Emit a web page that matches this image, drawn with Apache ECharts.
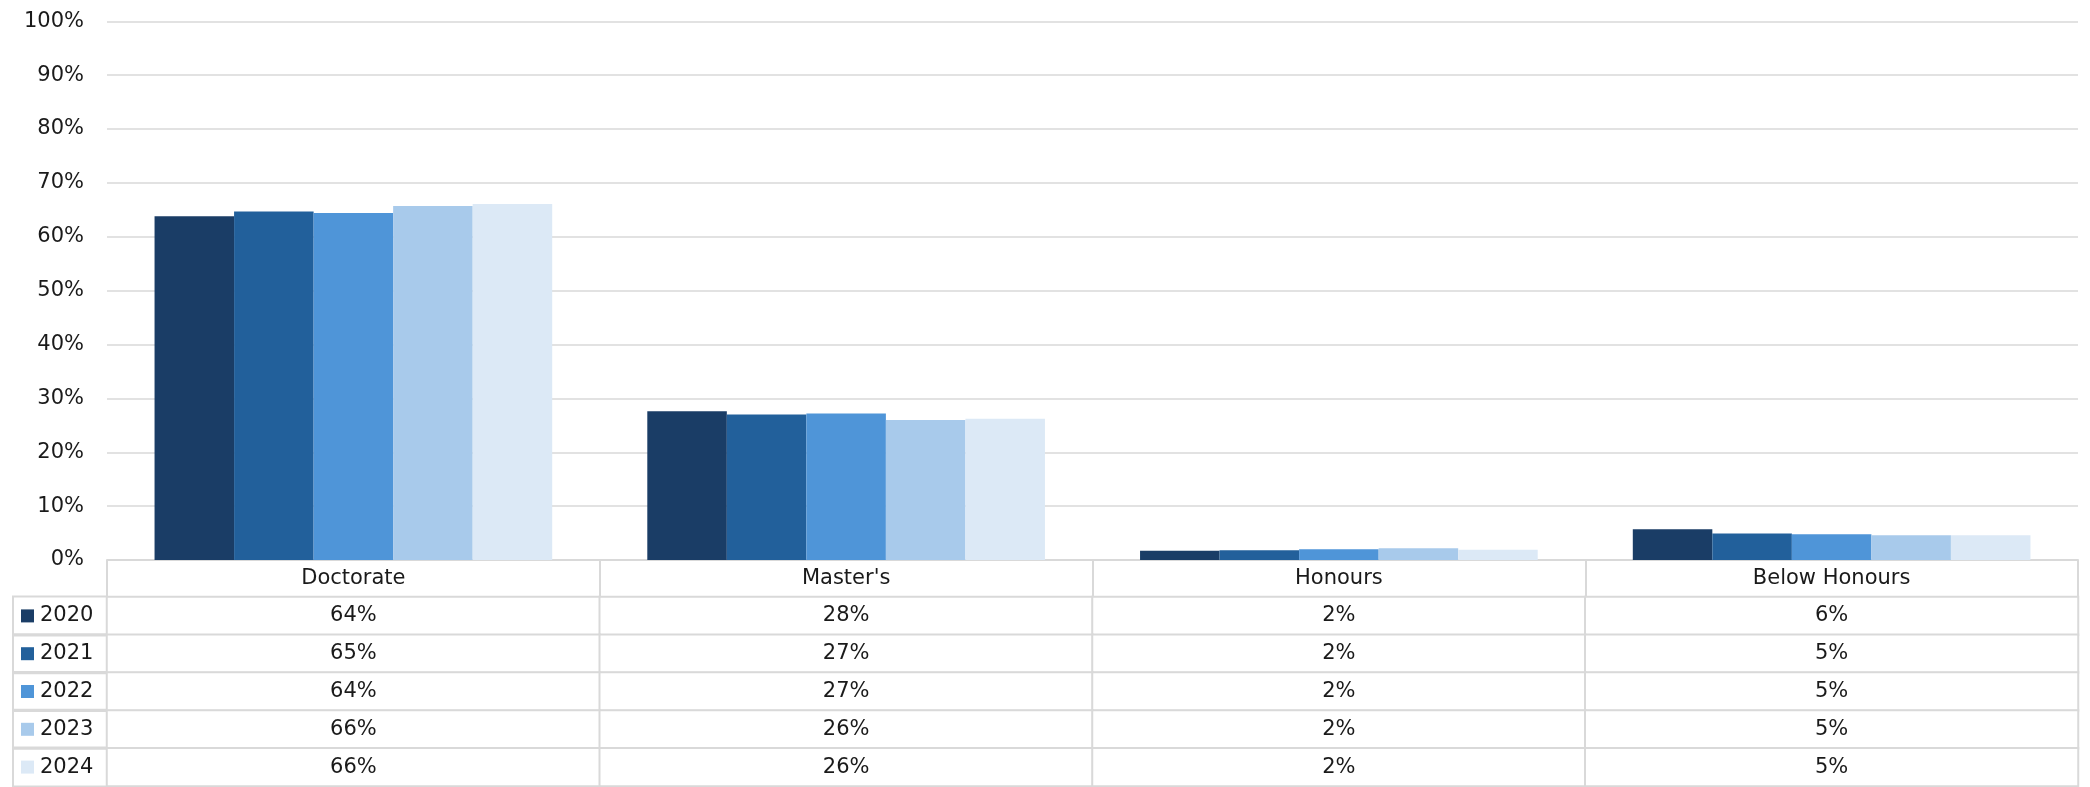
<!DOCTYPE html>
<html>
<head>
<meta charset="utf-8">
<script src="https://cdn.jsdelivr.net/npm/echarts@6/dist/echarts.min.js"></script>
<style>
  html, body { margin: 0; padding: 0; background: #fff; }
  #chart { width: 2090px; height: 787px; }
</style>
</head>
<body>
<div id="chart"></div>
<script>
// ---- data ----
const categories = ["Doctorate", "Master's", "Honours", "Below Honours"];
const years = ["2020", "2021", "2022", "2023", "2024"];
const values2020 = [63.8, 27.6, 1.7, 5.7];
const values2021 = [64.7, 27.0, 1.8, 4.9];
const values2022 = [64.4, 27.2, 2.0, 4.8];
const values2023 = [65.7, 26.0, 2.2, 4.6];
const values2024 = [66.1, 26.2, 1.9, 4.6];
const yTicks = [0, 10, 20, 30, 40, 50, 60, 70, 80, 90, 100];

const seriesValues = [values2020, values2021, values2022, values2023, values2024];
const colors = ["#1a3d66", "#22609b", "#4f95d8", "#a8caeb", "#dce9f6"];
const FONT = "DejaVu Sans";
const FS = 21;
const TXT = "#1a1a1a";
const LINE = "#d9d9d9";

const chart = echarts.init(document.getElementById('chart'), null, { renderer: 'canvas' });

const barSeries = years.map((y, i) => ({
  name: y,
  type: 'bar',
  xAxisIndex: 0, yAxisIndex: 0,
  data: seriesValues[i],
  barGap: 0,
  barCategoryGap: '19.3%',
  itemStyle: { color: colors[i] },
  emphasis: { disabled: true }
}));

const tableData = [];
years.forEach((y, i) => {
  categories.forEach((c, j) => {
    tableData.push([j, i, seriesValues[i][j]]);
  });
});

const rich = { t: { fontFamily: FONT, fontSize: FS, color: TXT, lineHeight: 38, padding: [0, 0, 0, 6] } };
colors.forEach((c, i) => { rich['m' + i] = { width: 13, height: 13, backgroundColor: c }; });

chart.setOption({
  animation: false,
  backgroundColor: '#fff',
  textStyle: { fontFamily: FONT },
  grid: [
    { left: 107, right: 12, top: 21.3, bottom: 227, containLabel: false },
    { left: 107, right: 12, top: 597, height: 195, containLabel: false }
  ],
  xAxis: [
    {
      type: 'category', gridIndex: 0, data: categories,
      axisLine: { show: true, lineStyle: { color: LINE, width: 2 } },
      axisTick: { show: false },
      axisLabel: { show: false }
    },
    {
      type: 'category', gridIndex: 1, data: categories, position: 'top',
      axisLine: { show: false },
      axisTick: { show: true, length: 37, interval: 0, alignWithLabel: false, lineStyle: { color: LINE, width: 2 } },
      axisLabel: { show: true, interval: 0, margin: 18, verticalAlign: 'middle', fontFamily: FONT, fontSize: FS, color: TXT },
      splitLine: { show: false }
    }
  ],
  yAxis: [
    {
      type: 'value', gridIndex: 0, min: 0, max: 100, interval: 10,
      axisLine: { show: false },
      axisTick: { show: false },
      axisLabel: {
        margin: 23, fontFamily: FONT, fontSize: FS, color: TXT,
        formatter: v => (yTicks.indexOf(v) >= 0 ? v + '%' : '')
      },
      splitLine: { show: true, lineStyle: { color: LINE, width: 1.5 } }
    },
    {
      type: 'category', gridIndex: 1, data: years, inverse: true,
      axisLine: { show: false },
      axisTick: { show: false },
      splitLine: { show: false },
      axisLabel: {
        interval: 0, margin: 94, align: 'left', verticalAlign: 'middle',
        width: 86, padding: [0, 0, 0, 8], lineHeight: 39,
        borderColor: LINE, borderWidth: 2,
        formatter: (v, i) => '{m' + i + '|}{t|' + v + '}',
        rich: rich
      }
    }
  ],
  series: barSeries.concat([{
    type: 'heatmap',
    xAxisIndex: 1, yAxisIndex: 1,
    data: tableData,
    itemStyle: { color: '#ffffff', borderColor: LINE, borderWidth: 2 },
    label: {
      show: true, fontFamily: FONT, fontSize: FS, color: TXT,
      formatter: p => Math.round(p.value[2]) + '%'
    },
    emphasis: { disabled: true }
  }])
});
</script>
</body>
</html>
